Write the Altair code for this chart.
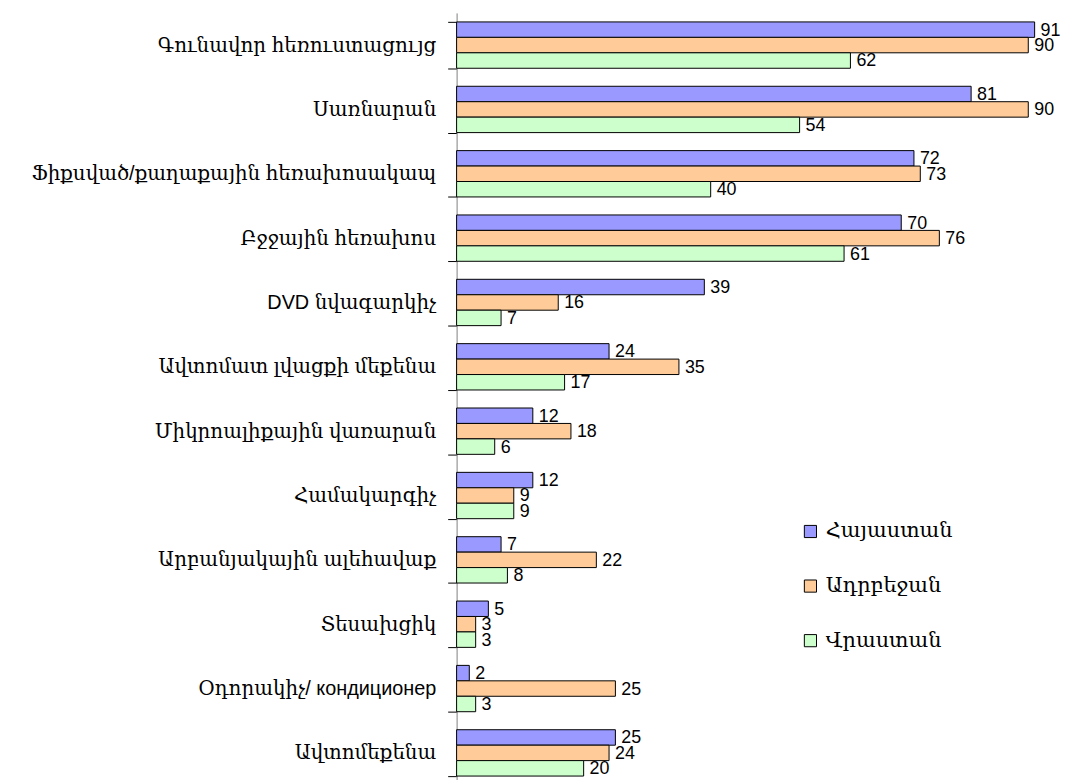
import altair as alt
import pandas as pd

categories = [
    "Գունավոր հեռուստացույց",
    "Սառնարան",
    "Ֆիքսված/քաղաքային հեռախոսակապ",
    "Բջջային հեռախոս",
    "DVD նվագարկիչ",
    "Ավտոմատ լվացքի մեքենա",
    "Միկրոալիքային վառարան",
    "Համակարգիչ",
    "Արբանյակային ալեհավաք",
    "Տեսախցիկ",
    "Օդորակիչ/ кондиционер",
    "Ավտոմեքենա",
]
series = ["Հայաստան", "Ադրբեջան", "Վրաստան"]
armenia = [91, 81, 72, 70, 39, 24, 12, 12, 7, 5, 2, 25]
azerbaijan = [90, 90, 73, 76, 16, 35, 18, 9, 22, 3, 25, 24]
georgia = [62, 54, 40, 61, 7, 17, 6, 9, 8, 3, 3, 20]
colors = ["#9999FF", "#FFCC99", "#CCFFCC"]

rows = []
for i, c in enumerate(categories):
    for s, vals in zip(series, [armenia, azerbaijan, georgia]):
        rows.append({"category": c, "series": s, "value": vals[i]})
df = pd.DataFrame(rows)

FONT = "Liberation Sans, DejaVu Serif"

y = alt.Y(
    "category:N",
    sort=categories,
    title=None,
    scale=alt.Scale(paddingInner=0.28, paddingOuter=0.14),
    axis=alt.Axis(
        tickBand="extent",
        tickSize=9,
        tickColor="#000000",
        domainColor="#808080",
        labelPadding=12,
        labelFontSize=20,
        labelFont=FONT,
        labelColor="#000000",
        labelLimit=600,
    ),
)
yoff = alt.YOffset("series:N", sort=series, scale=alt.Scale(paddingInner=0, paddingOuter=0))
x = alt.X("value:Q", scale=alt.Scale(domain=[0, 95]), axis=None)

base = alt.Chart(df).encode(y=y, yOffset=yoff, x=x)

bars = base.mark_bar(stroke="#000000", strokeWidth=1).encode(
    color=alt.Color(
        "series:N",
        sort=series,
        scale=alt.Scale(domain=series, range=colors),
        legend=alt.Legend(
            title=None,
            orient="none",
            legendX=346,
            legendY=512,
            symbolType="square",
            symbolSize=150,
            symbolStrokeColor="#000000",
            symbolStrokeWidth=1,
            symbolOpacity=1,
            labelFontSize=21,
            labelFont=FONT,
            labelColor="#000000",
            rowPadding=33,
            labelOffset=5,
        ),
    )
)

labels = base.mark_text(
    align="left", baseline="middle", dx=6, dy=1, font="Liberation Sans", fontSize=18, color="#000000"
).encode(text="value:Q")

chart = (
    alt.layer(bars, labels)
    .properties(
        width=608,
        height=778,
        autosize=alt.AutoSizeParams(type="none"),
        padding={"left": 452, "top": 2, "right": 5, "bottom": 0},
    )
    .configure_view(stroke=None)
)

chart.save("out.html", embed_options={"renderer": "svg", "actions": False})
